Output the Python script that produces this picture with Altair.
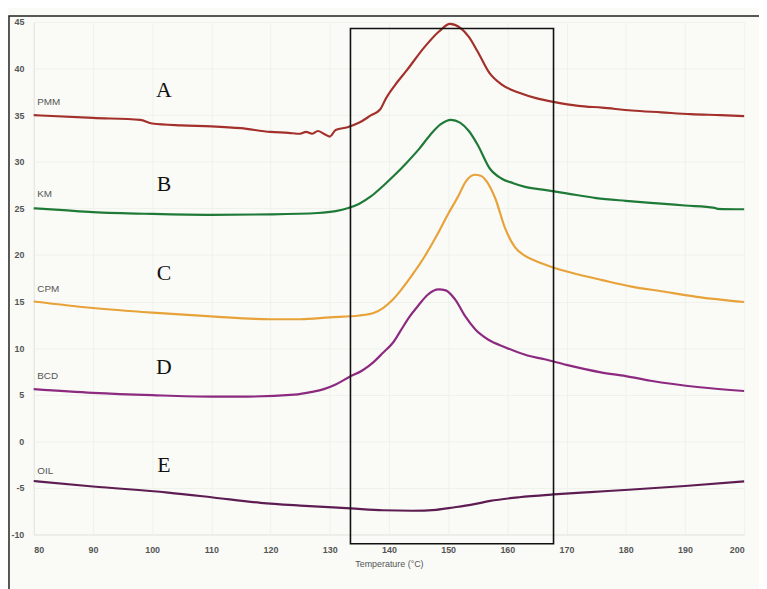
import altair as alt
import pandas as pd

# ---- data (temperature in °C, heat-flow offset values) ----
pmm_t = [80, 90, 98, 100, 105, 110, 115, 120, 123, 125, 126, 127, 128, 129, 130, 131, 133, 135, 137, 138.5,
         139.5, 141, 143, 146, 148.5, 150.3, 152, 153.5, 155, 157, 159, 162, 165, 168, 172, 176, 181, 186, 191, 196, 200]
pmm_v = [35.0, 34.7, 34.5, 34.1, 33.9, 33.8, 33.6, 33.2, 33.1, 33.0, 33.2, 33.0, 33.3, 33.0, 32.7, 33.4, 33.7, 34.2, 35.0, 35.6,
         36.8, 38.2, 39.8, 42.3, 44.0, 44.8, 44.4, 43.4, 41.8, 39.5, 38.3, 37.4, 36.8, 36.4, 36.0, 35.8, 35.5, 35.3, 35.1, 35.0, 34.9]

km_t = [80, 85, 90, 100, 110, 120, 128, 131, 133, 135, 137, 139, 141, 143, 145, 147, 148.7, 150.5, 152, 153.5,
        155, 157, 159, 161, 163, 166, 170, 175, 180, 186, 190, 195, 195.5, 200]
km_v = [25.0, 24.8, 24.6, 24.4, 24.3, 24.35, 24.5, 24.7, 25.0, 25.5, 26.3, 27.4, 28.6, 29.9, 31.3, 32.9, 34.0, 34.5, 34.2, 33.3,
        31.8, 29.3, 28.2, 27.7, 27.3, 27.0, 26.6, 26.1, 25.8, 25.5, 25.3, 25.05, 24.95, 24.9]

cpm_t = [80, 90, 100, 110, 120, 125, 130, 135, 137.5, 139, 140.5, 142, 144, 146, 148, 150, 151.7, 153, 154.5, 155.5,
         156.5, 158, 159.6, 161.3, 163, 165, 168, 172, 176, 181, 186, 192, 200]
cpm_v = [15.0, 14.3, 13.8, 13.4, 13.1, 13.1, 13.3, 13.5, 13.8, 14.3, 15.1, 16.2, 17.9, 19.8, 22.0, 24.4, 26.3, 27.9, 28.6, 28.5,
         27.9, 26.0, 22.9, 20.8, 19.9, 19.3, 18.6, 17.9, 17.3, 16.6, 16.1, 15.5, 14.95]

bcd_t = [80, 90, 100, 110, 116, 124, 127, 129, 131, 133.3, 135.5, 137.4, 139, 140.7, 142, 143.4, 145, 146.5, 148.4, 149.6,
         151.2, 152.9, 154.6, 156.8, 159.6, 163.4, 166.3, 170, 175.8, 180, 184.2, 192.5, 200]
bcd_v = [5.6, 5.2, 4.95, 4.8, 4.8, 5.0, 5.3, 5.6, 6.1, 6.9, 7.6, 8.5, 9.5, 10.6, 11.9, 13.3, 14.6, 15.7, 16.3, 16.2,
         15.2, 13.4, 12.0, 10.9, 10.1, 9.2, 8.8, 8.2, 7.4, 7.0, 6.5, 5.8, 5.4]

oil_t = [80, 90, 102.7, 110, 118.3, 125, 133.5, 139, 143.9, 148, 150.9, 154, 157.1, 162, 167.8, 174, 180.5, 190, 200]
oil_v = [-4.26, -4.85, -5.5, -6.0, -6.6, -6.9, -7.2, -7.4, -7.45, -7.35, -7.1, -6.8, -6.4, -6.0, -5.7, -5.45, -5.2, -4.8, -4.3]

series_names = ["PMM", "KM", "CPM", "BCD", "OIL"]
series_colors = ["#a3302b", "#1f7a38", "#e8a23a", "#8c2a80", "#5e1d52"]

# series name labels (near curve starts) and panel letters
name_x = [80.6, 80.6, 80.6, 80.6, 80.6]
name_y = [36.4, 26.5, 16.3, 7.0, -3.2]
letters = ["A", "B", "C", "D", "E"]
letter_x = [102.0, 102.0, 102.0, 102.0, 102.0]
letter_y = [37.7, 27.6, 18.1, 7.95, -2.55]

# highlighted temperature window
box_x = [133.5]
box_x2 = [167.8]
box_y = [44.3]
box_y2 = [-11.0]

x_ticks = list(range(80, 201, 10))
y_ticks = list(range(-10, 46, 5))

# ---- build tables ----
rows = []
for name, ts, vs in zip(series_names,
                        [pmm_t, km_t, cpm_t, bcd_t, oil_t],
                        [pmm_v, km_v, cpm_v, bcd_v, oil_v]):
    for i, (t, v) in enumerate(zip(ts, vs)):
        rows.append({"series": name, "T": t, "v": v, "i": i})
curves = pd.DataFrame(rows)
names_df = pd.DataFrame({"label": series_names, "T": name_x, "v": name_y})
letters_df = pd.DataFrame({"label": letters, "T": letter_x, "v": letter_y})
box_df = pd.DataFrame({"x": box_x, "x2": box_x2, "y": box_y, "y2": box_y2})

xscale = alt.Scale(domain=[80, 200], nice=False, zero=False)
yscale = alt.Scale(domain=[-10, 45], nice=False, zero=False)

axis_common = dict(labelFont="Liberation Sans Narrow, Liberation Sans, Arial", labelFontSize=9,
                   labelColor="#555555", tickSize=0, domainColor="#e4e6e0", gridColor="#eff1eb",
                   labelFontWeight="bold", titleFontWeight="normal", labelExpr="datum.value + ''")

lines = alt.Chart(curves).mark_line(strokeWidth=2.2, interpolate="monotone").encode(
    x=alt.X("T:Q", scale=xscale,
            axis=alt.Axis(values=x_ticks, title="Temperature (°C)", labelPadding=11, titlePadding=5,
                          titleFont="Liberation Sans Narrow, Liberation Sans, Arial", titleFontSize=9,
                          titleColor="#555555", **axis_common)),
    y=alt.Y("v:Q", scale=yscale,
            axis=alt.Axis(values=y_ticks, title=None, labelPadding=10, **axis_common)),
    color=alt.Color("series:N", scale=alt.Scale(domain=series_names, range=series_colors), legend=None),
    order="i:Q",
)

names = alt.Chart(names_df).mark_text(align="left", baseline="middle", fontSize=10,
                                      font="Liberation Sans Narrow, Liberation Sans, Arial",
                                      color="#555555").encode(
    x=alt.X("T:Q", scale=xscale), y=alt.Y("v:Q", scale=yscale), text="label:N")

letter_marks = alt.Chart(letters_df).mark_text(align="center", baseline="middle", fontSize=22,
                                               font="Liberation Serif, Times New Roman, serif",
                                               color="#111111").encode(
    x=alt.X("T:Q", scale=xscale), y=alt.Y("v:Q", scale=yscale), text="label:N")

box = alt.Chart(box_df).mark_rect(fillOpacity=0, stroke="#111111", strokeWidth=1.6).encode(
    x=alt.X("x:Q", scale=xscale), x2="x2:Q", y=alt.Y("y:Q", scale=yscale), y2="y2:Q")

# outer scanned-page frame (decoration)
frame = alt.Chart(pd.DataFrame({"k": [0]})).mark_rect(fillOpacity=0, stroke="#222222", strokeWidth=1.5).encode(
    x=alt.value(-25), x2=alt.value(740), y=alt.value(-6), y2=alt.value(580))

chart = alt.layer(frame, lines, box, names, letter_marks).properties(
    width=718, height=518,
    autosize=alt.AutoSizeParams(type="none"),
    padding={"left": 26, "top": 11, "right": 15, "bottom": 52},
    background="#fafbf7",
).configure_view(stroke=None)

chart.save("out.html", embed_options={"renderer": "svg", "actions": False})
